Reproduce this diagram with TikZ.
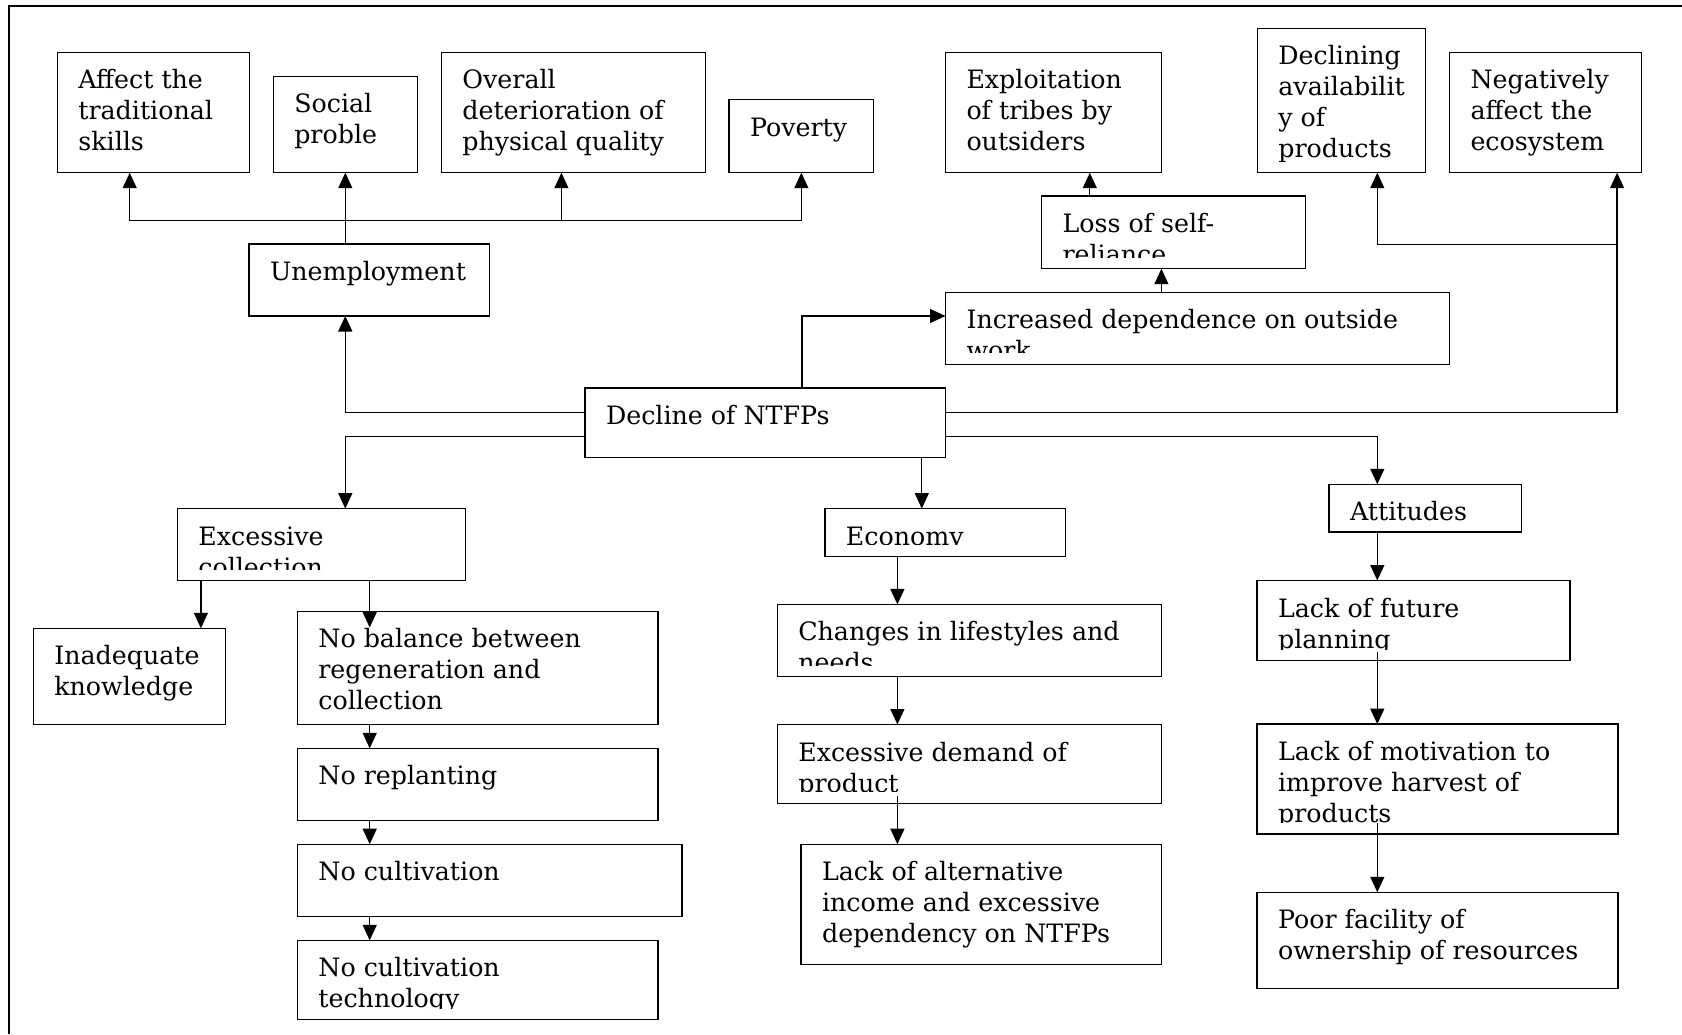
\documentclass[tikz,border=0pt]{standalone}
\usepackage{fontspec}
\setmainfont{DejaVu Serif}
\usetikzlibrary{fit,calc,arrows.meta}
\newcommand\boxfont{\fontsize{12.65pt}{15.5pt}\selectfont}
% \bx{name}{x1}{y1}{x2}{y2}{lines}: a framed box whose text is clipped
% a little above the bottom edge
\newcommand\bx[6]{%
  \node[box, fit={(#2,#3) (#4,#5)}] (#1) {};
  \begin{scope}
    \clip (#1.north west) rectangle ($(#1.south east)+(0,-11.5)$);
    \node[txt] (#1-t) at ($(#1.north west)+(21,36.5)$)
      {\begin{tabular}[t]{@{}l@{}}#6\end{tabular}};
  \end{scope}}
\tikzset{
  box/.style={draw, rectangle, line width=0.65pt, inner sep=0pt, outer sep=0pt},
  txt/.style={anchor=base west, inner sep=0pt, outer sep=0pt, font=\boxfont},
  arr/.style={line width=0.65pt, -{Triangle[length=7.75pt,width=7pt]}},
  frame/.style={line width=1pt}
}
\begin{document}
\begin{tikzpicture}[x=0.5pt, y=-0.5pt]
\useasboundingbox (0,0) rectangle (1682,1034);
\draw[frame] (1682,6) -- (8.6,6) -- (8.6,1034);

% upper row
\bx{aff}{57.4}{52.3}{249.7}{172.7}{Affect the\\traditional\\skills}
\bx{soc}{273.3}{76.3}{417.3}{172.7}{Social\\proble}
\bx{ovr}{441.4}{52.3}{705.5}{172.7}{Overall\\deterioration of\\physical quality}
\bx{pov}{729}{99.7}{873.7}{172.7}{Poverty}
\bx{exp}{945.5}{52.3}{1161.4}{172.7}{Exploitation\\of tribes by\\outsiders}
\bx{dec}{1257.4}{28.3}{1425.6}{172.7}{Declining\\availabilit\\y of\\products}
\bx{neg}{1449.5}{52.3}{1641.5}{172.7}{Negatively\\affect the\\ecosystem}
\bx{los}{1041.5}{196}{1305.2}{268.7}{Loss of self-\\reliance}
\bx{une}{249.1}{244}{489.7}{316}{Unemployment}
\bx{inc}{945.5}{292.3}{1449.5}{364.3}{Increased dependence on outside\\work}
\bx{ntf}{585}{388}{945.5}{457.7}{Decline of NTFPs}

% lower branches
\bx{exc}{177.4}{508.6}{465.6}{580.5}{Excessive\\collection}
\bx{eco}{824.9}{508.6}{1065.7}{556.3}{Economy}
\bx{att}{1329.1}{484.3}{1521.7}{532.1}{Attitudes}
\bx{ina}{33.3}{628.3}{225.6}{724.5}{Inadequate\\knowledge}
\bx{bal}{297.4}{611.2}{657.9}{724.5}{No balance between\\regeneration and\\collection}
\bx{rep}{297.4}{748.4}{657.9}{820.3}{No replanting}
\bx{cul}{297.4}{844.2}{682}{916.2}{No cultivation}
\bx{tec}{297.4}{940.4}{657.9}{1019.6}{No cultivation\\technology}
\bx{chg}{777.3}{604.4}{1161.4}{676.8}{Changes in lifestyles and\\needs}
\bx{dem}{777.3}{724.5}{1161.4}{803.3}{Excessive demand of\\product}
\bx{alt}{801.1}{844.2}{1161.4}{964.7}{Lack of alternative\\income and excessive\\dependency on NTFPs}
\bx{fut}{1257.1}{580.5}{1569.9}{660.5}{Lack of future\\planning}
\bx{mot}{1257.1}{724.1}{1618}{834}{Lack of motivation to\\improve harvest of\\products}
\bx{poo}{1257.1}{892.3}{1618}{988.5}{Poor facility of\\ownership of resources}

% guide positions for the connectors
\coordinate (xa) at (129.7,0);
\coordinate (xo) at (561.4,0);
\coordinate (bar) at (345,220.3);
\coordinate (xe) at (921.8,0);
\coordinate (xr) at (1377.3,0);
\coordinate (xn) at (1617.1,0);
\coordinate (br) at (1617.1,244.3);
\coordinate (ki) at (802,316);
\coordinate (xl) at (1161.4,0);
\coordinate (xx) at (1089.8,0);
\coordinate (xi) at (200.9,0);
\coordinate (xb) at (369.7,0);
\coordinate (xc) at (897.4,0);

% unemployment and its effects
\draw[arr] (une.north -| soc.south) -- (soc.south);
\draw[arr] (bar) -| (aff.south -| xa);
\draw[arr] (bar) -| (pov.south);
\draw[arr] (bar -| xo) -- (ovr.south -| xo);

% from the decline of NTFPs
\draw[arr] ($(ntf.north west)+(0,24.3)$) -| (une.south -| soc.south);
\draw[arr] ($(ntf.north west)+(0,48.7)$) -| (exc.north -| soc.south);
\draw[arr] (ntf.south -| xe) -- (eco.north -| xe);
\draw[arr] ($(ntf.north east)+(0,48.3)$) -| (att.north -| xr);
\draw[arr] ($(ntf.north east)+(0,24.3)$) -| (neg.south -| xn);
\draw[arr] (br) -| (dec.south -| xr);
\draw[arr] (ntf.north -| ki) |- (inc.west |- ki);
\draw[arr] (inc.north -| xl) -- (los.south -| xl);
\draw[arr] (los.north -| xx) -- (exp.south -| xx);

% excessive collection chain
\draw[arr] (exc.south -| xi) -- (ina.north -| xi);
\draw[arr] (exc.south -| xb) -- ($(bal.north -| xb)+(0,16.3)$);
\draw[arr] (bal.south -| xb) -- (rep.north -| xb);
\draw[arr] (rep.south -| xb) -- (cul.north -| xb);
\draw[arr] (cul.south -| xb) -- (tec.north -| xb);

% economy chain
\draw[arr] (eco.south -| xc) -- (chg.north -| xc);
\draw[arr] (chg.south -| xc) -- (dem.north -| xc);
\draw[arr] ($(dem.south -| xc)+(0,-7.2)$) -- (alt.north -| xc);

% attitudes chain
\draw[arr] (att.south -| xr) -- (fut.north -| xr);
\draw[arr] ($(fut.south -| xr)+(0,-8.4)$) -- (mot.north -| xr);
\draw[arr] ($(mot.south -| xr)+(0,-11.4)$) -- (poo.north -| xr);
\end{tikzpicture}
\end{document}
